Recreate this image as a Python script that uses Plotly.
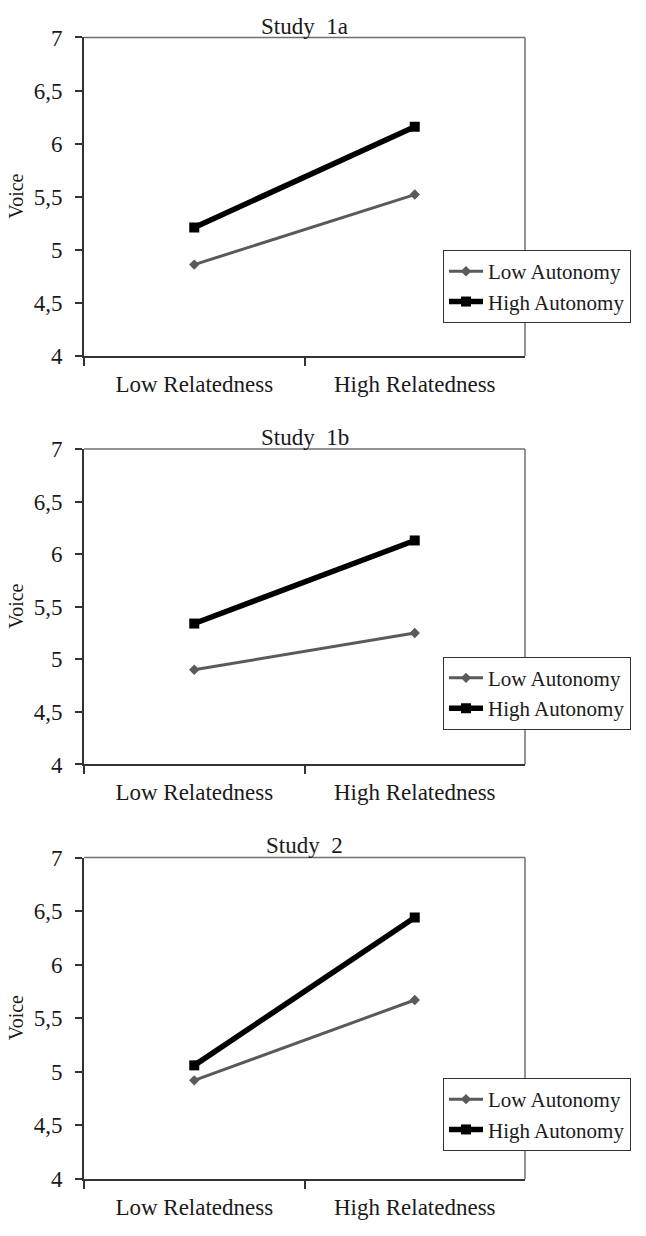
import plotly.graph_objects as go

categories = ["Low Relatedness", "High Relatedness"]
studies = ["Study  1a", "Study  1b", "Study  2"]
low_autonomy = [[4.86, 5.52], [4.90, 5.25], [4.92, 5.67]]
high_autonomy = [[5.21, 6.16], [5.34, 6.13], [5.06, 6.44]]
y_tickvals = [4, 4.5, 5, 5.5, 6, 6.5, 7]
y_ticktext = ["4", "4,5", "5", "5,5", "6", "6,5", "7"]
series_names = ["Low Autonomy", "High Autonomy"]

W, H = 646, 1236
FONT = "Liberation Serif"
TXT = "#1a1a1a"

# panel pixel layout (top, bottom) of plot area
panels_px = [(26, 351), (446, 768), (863, 1191)]
legend_top_px = [243, 658, 1088]
title_px = [15, 434, 851]
x_px = (84, 525)

def py(p):
    return 1 - p / H

def px(p):
    return p / W

fig = go.Figure()
layout = dict(
    width=W, height=H, margin=dict(l=0, r=0, t=0, b=0),
    paper_bgcolor="white", plot_bgcolor="white",
    font=dict(family=FONT, color=TXT, size=22),
    annotations=[], shapes=[],
)

for i in range(3):
    n = "" if i == 0 else str(i + 1)
    xa, ya = "x" + n, "y" + n
    leg = "legend" + n
    fig.add_trace(go.Scatter(
        x=categories, y=low_autonomy[i], name=series_names[0],
        mode="lines+markers", xaxis=xa, yaxis=ya, legend=leg,
        line=dict(color="#5a5a5a", width=3),
        marker=dict(symbol="diamond", size=8, color="#5a5a5a"),
    ))
    fig.add_trace(go.Scatter(
        x=categories, y=high_autonomy[i], name=series_names[1],
        mode="lines+markers", xaxis=xa, yaxis=ya, legend=leg,
        line=dict(color="#000000", width=5.5),
        marker=dict(symbol="square", size=10, color="#000000"),
    ))
    top, bot = panels_px[i]
    layout["xaxis" + n] = dict(
        domain=[px(x_px[0]), px(x_px[1])], anchor=ya,
        type="category", categoryorder="array", categoryarray=categories,
        range=[-0.5, 1.5], tickson="boundaries", ticks="outside", ticklen=8,
        tickcolor="#333", tickwidth=1.5, showline=True, linecolor="#333", linewidth=2,
        showgrid=False, zeroline=False, tickfont=dict(size=23, family=FONT, color=TXT),
        ticklabelstandoff=6, fixedrange=True,
    )
    layout["yaxis" + n] = dict(
        domain=[py(bot), py(top)], anchor=xa, range=[4, 7],
        tickvals=y_tickvals, ticktext=y_ticktext, ticks="outside", ticklen=7,
        tickcolor="#333", tickwidth=1.5, showline=True, linecolor="#333", linewidth=2,
        showgrid=False, zeroline=False, tickfont=dict(size=23, family=FONT, color=TXT),
        ticklabelstandoff=8, fixedrange=True,
    )
    layout[leg] = dict(
        x=px(443), y=py(legend_top_px[i]), xanchor="left", yanchor="top",
        bgcolor="white", bordercolor="#333", borderwidth=1,
        font=dict(size=21, family=FONT, color=TXT), itemwidth=34,
        tracegroupgap=0,
    )
    # top and right frame lines (lighter than the axes)
    layout["shapes"].append(dict(
        type="line", xref="paper", yref="paper",
        x0=px(x_px[0]), x1=px(x_px[1]), y0=py(top), y1=py(top),
        line=dict(color="#707070", width=1.5), layer="below",
    ))
    layout["shapes"].append(dict(
        type="line", xref="paper", yref="paper",
        x0=px(x_px[1]), x1=px(x_px[1]), y0=py(bot), y1=py(top),
        line=dict(color="#707070", width=1.5), layer="below",
    ))
    layout["annotations"].append(dict(
        text=studies[i], xref="paper", yref="paper",
        x=px((x_px[0] + x_px[1]) / 2), y=py(title_px[i]),
        xanchor="center", yanchor="middle", showarrow=False,
        font=dict(size=23, family=FONT, color=TXT),
    ))
    layout["annotations"].append(dict(
        text="Voice", xref="paper", yref="paper",
        x=px(16), y=py((top + bot) / 2), textangle=-90,
        xanchor="center", yanchor="middle", showarrow=False,
        font=dict(size=20, family=FONT, color=TXT),
    ))

fig.update_layout(**layout)
fig.write_html(
    "out.html",
    config={"displayModeBar": False},
    post_script="document.body.style.margin='0';document.body.style.overflow='hidden';",
)
